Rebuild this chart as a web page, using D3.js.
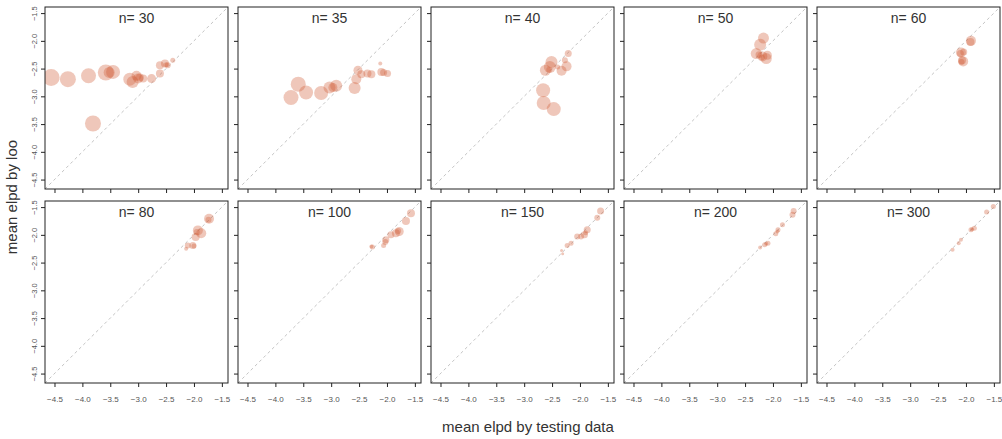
<!DOCTYPE html>
<html>
<head>
<meta charset="utf-8">
<script src="https://cdn.jsdelivr.net/npm/d3@7"></script>
<style>
  html, body { margin: 0; padding: 0; background: #fff; }
  svg { display: block; font-family: "Liberation Sans", Arial, Helvetica, sans-serif; }
</style>
</head>
<body>
<svg id="chart" width="1002" height="439"></svg>
<script>
// ---- data ----
const sampleSizes = [30, 35, 40, 50, 60, 80, 100, 150, 200, 300];
const tickValues = [-4.5, -4.0, -3.5, -3.0, -2.5, -2.0, -1.5];
const tickLabels = ["\u22124.5", "\u22124.0", "\u22123.5", "\u22123.0", "\u22122.5", "\u22122.0", "\u22121.5"];
const axisDomain = [-4.67, -1.39];
const xTitle = "mean elpd by testing data";
const yTitle = "mean elpd by loo";

// each point: [elpd by testing data, elpd by loo, spread]
const n30 = [[-4.56,-2.66,0.34],[-4.26,-2.69,0.32],[-3.89,-2.63,0.30],[-3.81,-3.49,0.32],[-3.58,-2.57,0.32],
  [-3.45,-2.56,0.28],[-3.52,-2.57,0.22],[-3.15,-2.69,0.26],[-3.10,-2.74,0.24],[-3.03,-2.63,0.20],
  [-2.97,-2.66,0.16],[-3.00,-2.68,0.20],[-2.91,-2.68,0.16],[-2.76,-2.68,0.18],[-2.61,-2.59,0.16],
  [-2.61,-2.44,0.16],[-2.52,-2.41,0.16],[-2.47,-2.44,0.12],[-2.38,-2.35,0.10],[-2.50,-2.43,0.10]];
const n35 = [[-3.72,-3.02,0.30],[-3.59,-2.78,0.30],[-3.45,-2.93,0.28],[-3.18,-2.94,0.28],[-3.03,-2.84,0.24],
  [-2.91,-2.81,0.24],[-2.97,-2.84,0.18],[-2.58,-2.85,0.24],[-2.55,-2.69,0.20],[-2.52,-2.53,0.18],
  [-2.46,-2.60,0.16],[-2.35,-2.59,0.16],[-2.28,-2.60,0.16],[-2.10,-2.56,0.16],[-2.06,-2.57,0.14],
  [-1.99,-2.59,0.14],[-2.12,-2.41,0.08]];
const n40 = [[-2.21,-2.23,0.14],[-2.27,-2.35,0.12],[-2.51,-2.38,0.24],[-2.54,-2.47,0.24],[-2.62,-2.53,0.22],
  [-2.33,-2.54,0.20],[-2.24,-2.46,0.20],[-2.66,-2.89,0.28],[-2.65,-3.12,0.28],[-2.47,-3.23,0.28],
  [-2.40,-2.47,0.10],[-2.55,-2.52,0.12]];
const n50 = [[-2.17,-1.95,0.22],[-2.23,-2.07,0.24],[-2.30,-2.23,0.22],[-2.12,-2.32,0.22],[-2.19,-2.28,0.20],
  [-2.10,-2.26,0.18],[-2.25,-2.25,0.14],[-2.20,-2.30,0.12]];
const n60 = [[-1.91,-2.00,0.20],[-1.92,-2.02,0.16],[-2.09,-2.21,0.20],[-2.05,-2.37,0.20],[-2.10,-2.23,0.14],
  [-2.07,-2.35,0.16],[-2.04,-2.20,0.14],[-2.08,-2.38,0.12]];
const n80 = [[-1.73,-1.71,0.20],[-1.74,-1.73,0.12],[-1.93,-1.92,0.20],[-1.87,-1.97,0.20],[-1.97,-2.04,0.16],
  [-1.95,-1.95,0.12],[-2.02,-2.19,0.14],[-2.11,-2.19,0.12],[-2.14,-2.25,0.08],[-2.00,-2.20,0.10]];
const n100 = [[-1.57,-1.61,0.16],[-1.66,-1.75,0.16],[-1.78,-1.94,0.18],[-1.84,-1.97,0.16],[-1.93,-2.00,0.14],
  [-2.02,-2.09,0.14],[-2.03,-2.13,0.12],[-2.06,-2.19,0.10],[-2.26,-2.22,0.10],[-2.28,-2.21,0.08],
  [-1.80,-1.93,0.12]];
const n150 = [[-1.63,-1.57,0.14],[-1.69,-1.69,0.12],[-1.87,-1.91,0.14],[-1.92,-2.00,0.14],[-1.98,-2.03,0.12],
  [-2.05,-2.03,0.12],[-2.16,-2.15,0.10],[-2.23,-2.19,0.10],[-2.33,-2.28,0.06],[-2.31,-2.34,0.06],
  [-1.90,-1.96,0.10]];
const n200 = [[-1.63,-1.57,0.12],[-1.65,-1.64,0.12],[-1.83,-1.82,0.10],[-1.91,-1.91,0.10],[-1.95,-1.98,0.10],
  [-2.09,-2.15,0.10],[-2.15,-2.18,0.10],[-2.23,-2.23,0.08],[-1.92,-1.94,0.08],[-2.12,-2.16,0.08]];
const n300 = [[-1.51,-1.49,0.10],[-1.63,-1.59,0.10],[-1.85,-1.88,0.10],[-1.91,-1.91,0.10],[-2.09,-2.09,0.08],
  [-2.13,-2.15,0.08],[-2.24,-2.27,0.08],[-1.89,-1.90,0.08]];
const panelPoints = [n30, n35, n40, n50, n60, n80, n100, n150, n200, n300];

// ---- layout ----
const svg = d3.select("#chart");
const colLefts = [45, 238, 431, 624, 817];
const rowTops = [7, 201];
const pw = 183, ph = 182;
const rScale = d3.scaleLinear().domain([0, 0.4]).range([0, 10]);
const tickColor = "#222";
const labelColor = "#555";

sampleSizes.forEach((n, i) => {
  const col = i % 5, row = Math.floor(i / 5);
  const left = colLefts[col], top = rowTops[row];
  const x = d3.scaleLinear().domain(axisDomain).range([0, pw]);
  const y = d3.scaleLinear().domain(axisDomain).range([ph, 0]);
  const g = svg.append("g").attr("transform", `translate(${left},${top})`);

  const clipId = "clip" + i;
  g.append("clipPath").attr("id", clipId).append("rect").attr("width", pw).attr("height", ph);

  // diagonal reference line y = x
  g.append("line")
    .attr("clip-path", `url(#${clipId})`)
    .attr("x1", x(axisDomain[0])).attr("y1", y(axisDomain[0]))
    .attr("x2", x(axisDomain[1])).attr("y2", y(axisDomain[1]))
    .attr("stroke", "#c4c4c4").attr("stroke-width", 1).attr("stroke-dasharray", "3,3");

  // points
  g.append("g").attr("clip-path", `url(#${clipId})`)
    .selectAll("circle").data(panelPoints[i]).join("circle")
    .attr("cx", d => x(d[0])).attr("cy", d => y(d[1])).attr("r", d => rScale(d[2]))
    .attr("fill", "rgb(208,92,52)").attr("fill-opacity", 0.34);

  // x axis ticks
  const xAxis = d3.axisBottom(x).tickValues(tickValues).tickSize(4).tickPadding(9)
    .tickFormat((d, k) => row === 1 ? tickLabels[k] : "");
  const gx = g.append("g").attr("transform", `translate(0,${ph})`).call(xAxis);
  gx.select(".domain").remove();
  gx.selectAll(".tick line").attr("stroke", tickColor);
  gx.selectAll(".tick text").attr("fill", labelColor).attr("font-size", 8)
    .attr("font-family", "Liberation Sans, Arial, sans-serif");

  // y axis ticks
  const yAxis = d3.axisLeft(y).tickValues(tickValues).tickSize(4)
    .tickFormat((d, k) => col === 0 ? tickLabels[k] : "");
  const gy = g.append("g").call(yAxis);
  gy.select(".domain").remove();
  gy.selectAll(".tick line").attr("stroke", tickColor);
  gy.selectAll(".tick text")
    .attr("fill", labelColor).attr("font-size", 7.5)
    .attr("font-family", "Liberation Sans, Arial, sans-serif")
    .attr("text-anchor", "middle").attr("x", 0).attr("dy", null)
    .attr("transform", "translate(-11,0) rotate(-90)")
    .attr("dominant-baseline", "central");

  // frame
  g.append("rect").attr("width", pw).attr("height", ph)
    .attr("fill", "none").attr("stroke", "#222").attr("stroke-width", 1);

  // panel title
  g.append("text").attr("x", pw / 2).attr("y", 16)
    .attr("text-anchor", "middle").attr("font-size", 14).attr("fill", "#333")
    .text("n= " + n);
});

// axis titles
svg.append("text").attr("x", 528).attr("y", 432).attr("text-anchor", "middle")
  .attr("font-size", 15).attr("fill", "#333").text(xTitle);
svg.append("text").attr("transform", "translate(17,197) rotate(-90)").attr("text-anchor", "middle")
  .attr("font-size", 15).attr("fill", "#333").text(yTitle);
</script>
</body>
</html>
